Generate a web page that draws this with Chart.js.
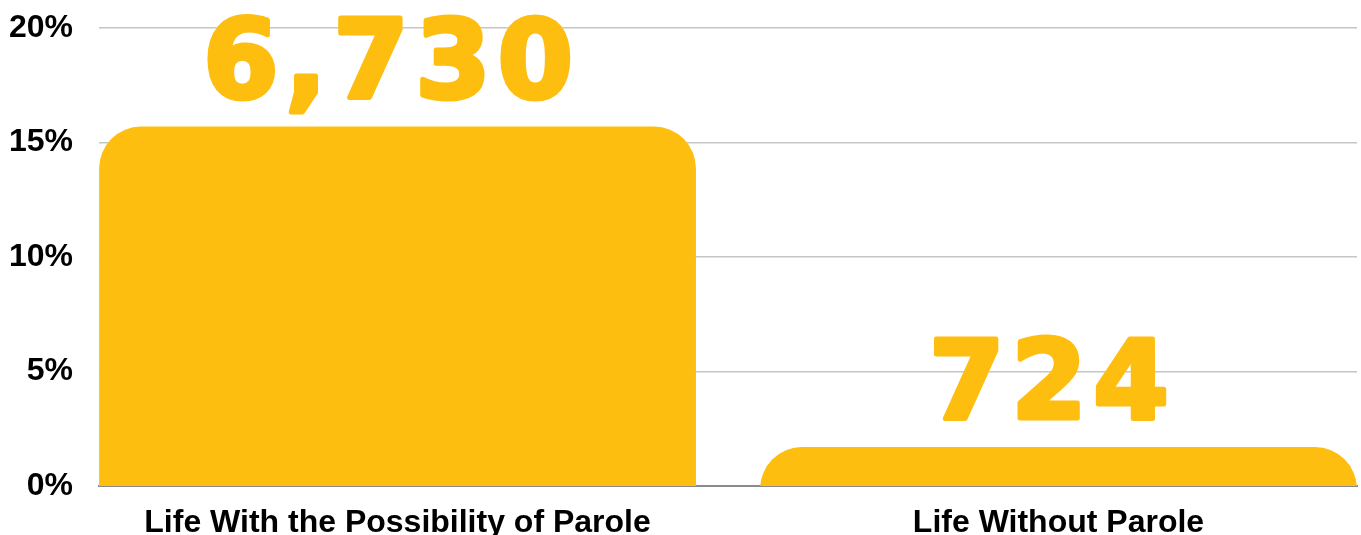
<!DOCTYPE html>
<html>
<head>
<meta charset="utf-8">
<script src="https://cdn.jsdelivr.net/npm/chart.js@4"></script>
<style>
  html, body { margin: 0; padding: 0; background: #ffffff; }
  #wrap { width: 1361px; height: 535px; }
</style>
</head>
<body>
<div id="wrap"><canvas id="sentenceChart"></canvas></div>
<script>
const categories = ['Life With the Possibility of Parole', 'Life Without Parole'];
const sharePercent = [15.7, 1.7];      // bar height, % of the whole
const peopleCount = [6730, 724];       // big number shown above each bar
const yTickValues = [0, 5, 10, 15, 20];

const barColor = '#FEBE10';

function formatNumber(num) {
    return num.toString().replace(/\B(?=(\d{3})+(?!\d))/g, ",");
}

// draws the large counts above the bars
const countLabels = {
    id: 'countLabels',
    afterDatasetsDraw(chart) {
        const ctx = chart.ctx;
        const meta = chart.getDatasetMeta(0);
        ctx.save();
        ctx.fillStyle = barColor;
        ctx.strokeStyle = barColor;
        ctx.lineWidth = 5;
        ctx.lineJoin = 'round';
        ctx.font = 'bold 108px "DejaVu Sans"';
        ctx.letterSpacing = '7px';
        ctx.textAlign = 'center';
        ctx.textBaseline = 'alphabetic';
        meta.data.forEach((bar, i) => {
            const txt = formatNumber(peopleCount[i]);
            ctx.strokeText(txt, bar.x - 6, bar.y - 29);
            ctx.fillText(txt, bar.x - 6, bar.y - 29);
        });
        ctx.restore();
    }
};

const ctx = document.getElementById('sentenceChart').getContext('2d');
new Chart(ctx, {
    type: 'bar',
    data: {
        datasets: [{
            data: categories.map((c, i) => ({ x: i, y: sharePercent[i] })),
            backgroundColor: barColor,
            borderWidth: 0,
            borderRadius: 42,
            borderSkipped: 'bottom',
            base: -5,       // bar runs below the axis so the corner radius is not clamped
            clip: 0,
            barPercentage: 0.903,
            categoryPercentage: 1
        }]
    },
    options: {
        responsive: true,
        maintainAspectRatio: false,
        animation: false,
        layout: { padding: { left: 9, right: 4, top: 28, bottom: -17 } },
        plugins: {
            legend: { display: false },
            tooltip: { enabled: false }
        },
        scales: {
            x: {
                type: 'linear',
                offset: false,
                min: -0.4516,
                max: 1.4516,
                afterBuildTicks: axis => {
                    axis.ticks = categories.map((c, i) => ({ value: i }));
                },
                grid: { display: false },
                border: { display: true, color: '#8a8a8a', width: 2 },
                ticks: {
                    autoSkip: false,
                    maxRotation: 0,
                    padding: 13,
                    color: '#000000',
                    font: { family: '"Liberation Sans", Arial, sans-serif', size: 32, weight: 'bold', lineHeight: 1 },
                    callback: value => categories[value]
                }
            },
            y: {
                min: 0,
                max: 20,
                afterBuildTicks: axis => {
                    axis.ticks = yTickValues.map(v => ({ value: v }));
                },
                // invisible tick marks keep the gap between labels and plot
                grid: { color: '#c6c6c6', lineWidth: 1.5, drawTicks: true, tickLength: 26, tickColor: 'rgba(0,0,0,0)' },
                border: { display: false },
                ticks: {
                    padding: 0,
                    color: '#000000',
                    font: { family: '"Liberation Sans", Arial, sans-serif', size: 32, weight: 'bold' },
                    callback: value => value + '%'
                }
            }
        }
    },
    plugins: [countLabels]
});
</script>
</body>
</html>
